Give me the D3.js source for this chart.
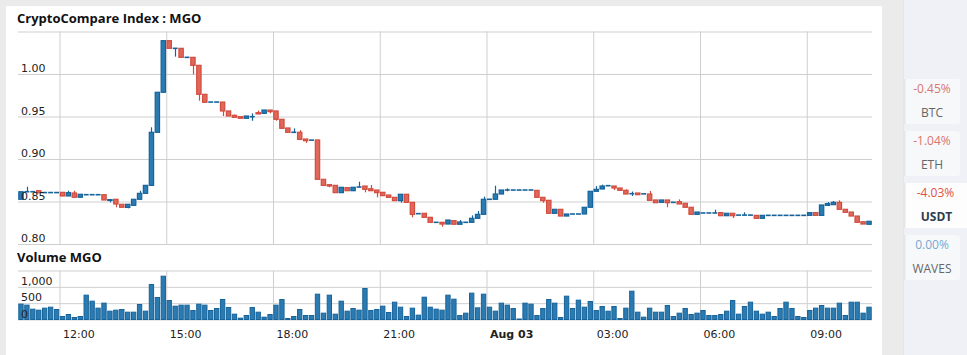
<!DOCTYPE html>
<html>
<head>
<meta charset="utf-8">
<script src="https://cdn.jsdelivr.net/npm/d3@7"></script>
<style>
  html, body { margin: 0; padding: 0; background: #ebebeb; }
  svg { display: block; }
</style>
</head>
<body>
<svg id="chart" width="967" height="355"></svg>
<script>
// 10 minute candles, first one opens Aug 02 10:50
const startTime = new Date(2018, 7, 2, 10, 50);

const opens = [
  .8526,.8615,.8615,.8627,.8605,.8605,.8605,.8608,.8565,.8600,.8550,.8580,
  .8580,.8580,.8580,.8512,.8526,.8467,.8430,.8455,.8526,.8596,.8690,.9314,
  .9785,1.0392,1.0302,1.0302,1.0196,1.0196,1.0102,.9761,.9670,.9670,.9670,.9565,
  .9514,.9498,.9479,.9498,.9545,.9537,.9576,.9565,.9467,.9365,.9314,.9314,
  .9235,.9222,.9224,.8761,.8698,.8690,.8604,.8663,.8627,.8670,.8682,.8650,
  .8635,.8608,.8576,.8549,.8510,.8585,.8490,.8357,.8361,.8314,.8255,.8255,
  .8235,.8275,.8232,.8255,.8255,.8302,.8349,.8526,.8526,.8588,.8635,.8635,
  .8635,.8635,.8635,.8631,.8549,.8514,.8361,.8408,.8329,.8353,.8353,.8353,
  .8432,.8620,.8647,.8686,.8682,.8659,.8631,.8592,.8600,.8590,.8588,.8518,
  .8490,.8518,.8490,.8498,.8479,.8432,.8349,.8365,.8365,.8365,.8369,.8333,
  .8361,.8340,.8340,.8340,.8337,.8302,.8337,.8337,.8337,.8337,.8337,.8337,
  .8337,.8337,.8369,.8337,.8455,.8463,.8490,.8408,.8376,.8329,.8262,.8232
];
const closes = [
  .8615,.8615,.8615,.8603,.8605,.8605,.8605,.8565,.8604,.8550,.8585,.8580,
  .8580,.8580,.8518,.8522,.8471,.8432,.8467,.8526,.8596,.8690,.9314,.9785,
  1.0392,1.0302,1.0302,1.0196,1.0196,1.0102,.9761,.9667,.9670,.9670,.9565,.9506,
  .9490,.9479,.9506,.9498,.9530,.9576,.9557,.9467,.9361,.9314,.9314,.9231,
  .9215,.9222,.8761,.8690,.8682,.8604,.8667,.8627,.8667,.8670,.8643,.8627,
  .8604,.8569,.8549,.8510,.8585,.8490,.8349,.8357,.8314,.8255,.8255,.8235,
  .8282,.8232,.8259,.8255,.8302,.8349,.8526,.8526,.8588,.8635,.8635,.8635,
  .8635,.8635,.8635,.8549,.8510,.8361,.8408,.8329,.8353,.8353,.8353,.8432,
  .8620,.8643,.8682,.8686,.8659,.8631,.8588,.8592,.8580,.8590,.8514,.8486,
  .8518,.8486,.8490,.8471,.8432,.8349,.8376,.8365,.8365,.8365,.8333,.8361,
  .8333,.8340,.8340,.8340,.8302,.8337,.8337,.8337,.8337,.8337,.8337,.8337,
  .8337,.8369,.8337,.8459,.8475,.8490,.8408,.8373,.8329,.8255,.8235,.8267
];
const highs = [
  .8615,.8674,.8615,.8627,.8605,.8605,.8605,.8608,.8627,.8627,.8585,.8580,
  .8580,.8580,.8580,.8530,.8526,.8467,.8467,.8526,.8627,.8690,.9373,.9785,
  1.0392,1.0392,1.0302,1.0302,1.0196,1.0196,1.0102,.9761,.9670,.9670,.9670,.9565,
  .9522,.9498,.9506,.9537,.9569,.9576,.9576,.9565,.9467,.9365,.9360,.9340,
  .9235,.9222,.9224,.8761,.8698,.8690,.8667,.8663,.8667,.8733,.8682,.8694,
  .8635,.8608,.8576,.8549,.8585,.8585,.8490,.8357,.8361,.8314,.8255,.8255,
  .8282,.8275,.8282,.8255,.8337,.8388,.8557,.8526,.8686,.8635,.8655,.8635,
  .8635,.8635,.8635,.8631,.8549,.8514,.8408,.8408,.8353,.8353,.8353,.8432,
  .8620,.8682,.8698,.8686,.8682,.8659,.8643,.8617,.8600,.8590,.8624,.8518,
  .8518,.8518,.8490,.8525,.8479,.8432,.8376,.8365,.8365,.8404,.8369,.8361,
  .8361,.8340,.8373,.8340,.8337,.8337,.8337,.8337,.8337,.8337,.8337,.8337,
  .8337,.8369,.8369,.8459,.8494,.8506,.8514,.8408,.8376,.8329,.8262,.8267
];
const lows = [
  .8526,.8615,.8615,.8603,.8605,.8605,.8605,.8565,.8565,.8550,.8550,.8580,
  .8580,.8580,.8518,.8490,.8432,.8432,.8420,.8455,.8526,.8596,.8690,.9314,
  .9785,1.0302,1.0204,1.0196,1.0196,.9996,.9686,.9667,.9670,.9670,.9506,.9506,
  .9490,.9479,.9479,.9450,.9530,.9537,.9537,.9450,.9361,.9314,.9314,.9231,
  .9190,.9222,.8761,.8690,.8667,.8604,.8604,.8627,.8627,.8670,.8608,.8627,
  .8549,.8569,.8549,.8510,.8486,.8490,.8314,.8357,.8314,.8255,.8255,.8204,
  .8235,.8232,.8232,.8255,.8255,.8302,.8349,.8526,.8526,.8588,.8620,.8635,
  .8635,.8635,.8635,.8549,.8486,.8361,.8361,.8329,.8329,.8353,.8353,.8353,
  .8432,.8620,.8647,.8686,.8635,.8631,.8588,.8565,.8580,.8590,.8514,.8486,
  .8490,.8432,.8490,.8471,.8432,.8349,.8349,.8365,.8365,.8365,.8333,.8333,
  .8306,.8340,.8340,.8340,.8302,.8302,.8337,.8337,.8337,.8337,.8337,.8337,
  .8337,.8337,.8337,.8337,.8450,.8463,.8408,.8373,.8329,.8255,.8235,.8232
];
const volumes = [
  470,440,316,286,347,377,306,92,153,61,92,745,
  561,347,500,255,286,306,224,224,459,255,1071,673,
  1326,581,408,439,439,275,469,439,275,337,612,367,
  163,41,122,367,224,71,153,439,612,31,92,306,
  122,122,775,194,745,163,561,255,337,286,949,275,
  306,408,214,530,377,92,347,133,683,377,316,286,
  745,622,122,194,806,357,775,377,255,500,439,337,
  15,500,469,122,337,612,500,61,714,337,592,377,
  551,275,398,255,398,31,347,867,224,71,347,224,
  224,428,92,194,337,153,194,275,122,122,153,255,
  581,163,398,530,255,163,224,92,337,530,337,92,
  61,275,347,428,347,347,500,122,530,530,194,377
];

const priceTicks = [0.80, 0.85, 0.90, 0.95, 1.00, 1.05];
const volumeTicks = [0, 500, 1000, 1500];

const panelSymbols = ["BTC", "ETH", "USDT", "WAVES"];
const panelChanges = ["-0.45%", "-1.04%", "-4.03%", "0.00%"];
const selectedSymbol = "USDT";

const candles = opens.map((o, i) => ({
  t: d3.timeMinute.offset(startTime, i * 10 + 5),
  o, h: highs[i], l: lows[i], c: closes[i], v: volumes[i]
}));

const left = 18, right = 872;
const priceTop = 31.5, priceBottom = 244;
const volTop = 270.5, volBottom = 319.5;

const blueFill = "#2b7bb1", blueStroke = "#16639b";
const redFill = "#e0685b", redStroke = "#d24c3e";
const gridColor = "#cfcfcf";
const labelFont = "DejaVu Sans";

const x = d3.scaleTime([startTime, d3.timeMinute.offset(startTime, 1440)], [left, right]);
const y = d3.scaleLinear([0.80, 1.05], [priceBottom, priceTop]);
const yVol = d3.scaleLinear([0, 1500], [volBottom, volTop]);

const svg = d3.select("#chart");

// page / card / side panel
svg.append("rect").attr("x", 6).attr("y", 6).attr("width", 876).attr("height", 349).attr("fill", "#fff");
svg.append("rect").attr("x", 903).attr("y", 0).attr("width", 64).attr("height", 355).attr("fill", "#eff1f6");
svg.append("line").attr("x1", 903.5).attr("x2", 903.5).attr("y1", 0).attr("y2", 355).attr("stroke", "#e2e4e8");

svg.append("text")
  .attr("x", 17).attr("y", 23)
  .attr("font-family", "Open Sans").attr("font-weight", "bold").attr("font-size", "13px")
  .attr("fill", "#111")
  .text("CryptoCompare Index : MGO");

svg.append("text")
  .attr("x", 17).attr("y", 262)
  .attr("font-family", "Open Sans").attr("font-weight", "bold").attr("font-size", "13px")
  .attr("fill", "#111")
  .text("Volume MGO");

// grids
const timeTicks = x.ticks(d3.timeHour.every(3));

function vGrid(top, bottom) {
  svg.append("g")
    .attr("transform", `translate(0,${bottom})`)
    .call(d3.axisBottom(x).tickValues(timeTicks).tickSize(-(bottom - top)).tickFormat(""))
    .call(g => g.select(".domain").remove())
    .selectAll("line").attr("stroke", gridColor);
}
vGrid(priceTop, priceBottom);
vGrid(volTop, volBottom);

const yGrid = svg.append("g")
  .attr("transform", `translate(${left},0)`)
  .call(d3.axisRight(y).tickValues(priceTicks).tickSize(right - left).tickFormat(""));
yGrid.select(".domain").remove();
yGrid.selectAll("line").attr("stroke", gridColor);

const vGridH = svg.append("g")
  .attr("transform", `translate(${left},0)`)
  .call(d3.axisRight(yVol).tickValues(volumeTicks).tickSize(right - left).tickFormat(""));
vGridH.select(".domain").remove();
vGridH.selectAll("line").attr("stroke", gridColor);

// candles
const step = x(d3.timeMinute.offset(startTime, 10)) - x(startTime);
const bodyW = step - 1.6;
const isUp = d => d.c >= d.o;

const cg = svg.append("g");
cg.selectAll(".wick")
  .data(candles.filter(d => d.h > Math.max(d.o, d.c) || d.l < Math.min(d.o, d.c)))
  .join("line")
  .attr("class", "wick")
  .attr("x1", d => Math.round(x(d.t)) + 0.5).attr("x2", d => Math.round(x(d.t)) + 0.5)
  .attr("y1", d => y(d.h)).attr("y2", d => y(d.l))
  .attr("stroke", d => isUp(d) ? blueStroke : redStroke)
  .attr("stroke-width", 1.2);

cg.selectAll(".body")
  .data(candles.filter(d => d.o !== d.c))
  .join("rect")
  .attr("class", "body")
  .attr("x", d => x(d.t) - bodyW / 2)
  .attr("width", bodyW)
  .attr("y", d => y(Math.max(d.o, d.c)))
  .attr("height", d => Math.abs(y(d.o) - y(d.c)))
  .attr("fill", d => isUp(d) ? blueFill : redFill)
  .attr("stroke", d => isUp(d) ? blueStroke : redStroke)
  .attr("stroke-width", 1.2);

cg.selectAll(".flat")
  .data(candles.filter(d => d.o === d.c))
  .join("line")
  .attr("class", "flat")
  .attr("x1", d => x(d.t) - bodyW / 2 - 0.3)
  .attr("x2", d => x(d.t) + bodyW / 2 + 0.3)
  .attr("y1", d => y(d.c)).attr("y2", d => y(d.c))
  .attr("stroke", blueStroke)
  .attr("stroke-width", 1.6);

// volume bars
svg.append("g").selectAll("rect")
  .data(candles)
  .join("rect")
  .attr("x", d => x(d.t) - bodyW / 2)
  .attr("width", bodyW)
  .attr("y", d => yVol(d.v))
  .attr("height", d => yVol(0) - yVol(d.v))
  .attr("fill", blueFill)
  .attr("stroke", blueStroke)
  .attr("stroke-width", 1);

// y labels (drawn over the candles)
svg.append("g").selectAll("text")
  .data(priceTicks.filter(v => v < 1.05))
  .join("text")
  .attr("x", 21).attr("y", d => y(d) - 2)
  .attr("font-family", labelFont).attr("font-size", "11px").attr("fill", "#222")
  .text(d3.format(".2f"));

svg.append("g").selectAll("text")
  .data(volumeTicks.filter(v => v < 1500))
  .join("text")
  .attr("x", 21).attr("y", d => yVol(d) - 2)
  .attr("font-family", labelFont).attr("font-size", "11px").attr("fill", "#222")
  .text(d3.format(","));

// time labels
const xLabels = svg.append("g")
  .attr("transform", `translate(0,${volBottom})`)
  .call(d3.axisBottom(x).tickValues(timeTicks).tickSize(0)
    .tickFormat(d => d.getHours() === 0 ? d3.timeFormat("%b %d")(d) : d3.timeFormat("%H:%M")(d)));
xLabels.select(".domain").remove();
xLabels.selectAll("text")
  .attr("text-anchor", "start")
  .attr("x", 3).attr("y", 18).attr("dy", 0)
  .attr("font-family", labelFont).attr("font-size", "11px").attr("fill", "#222")
  .attr("font-weight", d => d.getHours() === 0 ? "bold" : "normal");

// side panel buttons
const btnTops = [79, 131, 183, 235];
const panel = svg.append("g");
panelSymbols.forEach((sym, i) => {
  const sel = sym === selectedSymbol;
  const top = btnTops[i];
  const chg = panelChanges[i];
  const neg = chg.startsWith("-");
  panel.append("rect")
    .attr("x", 904).attr("y", top)
    .attr("width", sel ? 63 : 56).attr("height", 45)
    .attr("rx", sel ? 0 : 3)
    .attr("fill", sel ? "#fdfdfd" : "#f7f8fa");
  panel.append("rect")
    .attr("x", 904).attr("y", top).attr("width", 1.5).attr("height", 45)
    .attr("fill", "#e4e6ea");
  const cx = sel ? 935.5 : 932;
  panel.append("text")
    .attr("x", cx).attr("y", top + 14)
    .attr("text-anchor", "middle")
    .attr("font-family", "Open Sans").attr("font-size", "12px")
    .attr("fill", neg ? (sel ? "#e0513f" : "#d9776e") : "#76a9d4")
    .text(chg);
  panel.append("text")
    .attr("x", cx + (sel ? 1 : 0)).attr("y", top + 38)
    .attr("text-anchor", "middle")
    .attr("font-family", "Open Sans").attr("font-size", "12px")
    .attr("font-weight", sel ? "bold" : "normal")
    .attr("fill", sel ? "#2f3d4c" : "#666")
    .text(sym);
});
</script>
</body>
</html>
